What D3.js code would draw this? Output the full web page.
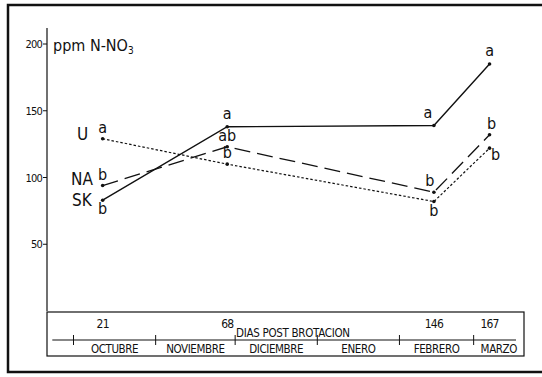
<!DOCTYPE html>
<html>
<head>
<meta charset="utf-8">
<script src="https://cdn.jsdelivr.net/npm/d3@7"></script>
<style>
  body { margin: 0; background: #fff; }
  text { font-family: "DejaVu Sans Condensed", "Liberation Sans", sans-serif; fill: #111; }
</style>
</head>
<body>
<div id="chart"></div>
<script>
// days after budbreak where samples were taken
const days = [21, 68, 146, 167];
const skValues = [83, 138, 139, 185];
const naValues = [94, 123, 89, 132];
const uValues = [129, 110, 82, 122];
const skLetters = ['b', 'a', 'a', 'a'];
const naLetters = ['b', 'ab', 'b', 'b'];
const uLetters = ['a', 'b', 'b', 'b'];
const yTicks = [50, 100, 150, 200];
const months = ['OCTUBRE', 'NOVIEMBRE', 'DICIEMBRE', 'ENERO', 'FEBRERO', 'MARZO'];
const monthStarts = [10, 41, 71, 102, 133, 161];

const width = 542;
const height = 377;

const x = d3.scaleLinear().domain([0, 180]).range([47, 524]);
const y = d3.scaleLinear().domain([0, 200]).range([311, 44]);

const svg = d3.select('#chart')
  .append('svg')
  .attr('width', width)
  .attr('height', height);

// outer frame (no right edge in the scan)
svg.append('path')
  .attr('d', 'M542,5 H8 V372 H542')
  .attr('fill', 'none')
  .attr('stroke', '#111')
  .attr('stroke-width', 2.5);

// y axis
const yAxis = svg.append('g').attr('transform', `translate(${x(0)},0)`);
yAxis.append('line')
  .attr('y1', 28).attr('y2', y(0))
  .attr('stroke', '#111').attr('stroke-width', 1.2);
yAxis.selectAll('.tick')
  .data(yTicks)
  .enter()
  .append('line')
  .attr('x1', -4).attr('x2', 0)
  .attr('y1', d => y(d)).attr('y2', d => y(d))
  .attr('stroke', '#111');
yAxis.selectAll('.tlabel')
  .data(yTicks)
  .enter()
  .append('text')
  .attr('x', -5)
  .attr('y', d => y(d) + 4)
  .attr('text-anchor', 'end')
  .attr('font-size', 11)
  .attr('letter-spacing', -0.8)
  .text(d => d);

const title = svg.append('text')
  .attr('x', 53).attr('y', 51)
  .attr('font-size', 16);
title.append('tspan').text('ppm N-NO');
title.append('tspan').attr('font-size', 10).attr('dy', 3).text('3');

// x axis box
const box = svg.append('g');
box.append('rect')
  .attr('x', x(0)).attr('y', 312)
  .attr('width', x(180) - x(0)).attr('height', 44)
  .attr('fill', 'none').attr('stroke', '#111').attr('stroke-width', 1.2);
box.append('line')
  .attr('x1', x(2)).attr('x2', x(177))
  .attr('y1', 340).attr('y2', 340)
  .attr('stroke', '#111').attr('stroke-width', 1.2);
box.selectAll('.mtick')
  .data(monthStarts)
  .enter()
  .append('line')
  .attr('x1', d => x(d)).attr('x2', d => x(d))
  .attr('y1', 335).attr('y2', 345)
  .attr('stroke', '#111');
box.selectAll('.mlabel')
  .data(months)
  .enter()
  .append('text')
  .attr('x', (d, i) => x(((monthStarts[i]) + (monthStarts[i + 1] || 180)) / 2))
  .attr('y', 353)
  .attr('text-anchor', 'middle')
  .attr('font-size', 11.5)
  .attr('letter-spacing', -0.4)
  .text(d => d);
box.selectAll('.dlabel')
  .data(days)
  .enter()
  .append('text')
  .attr('x', d => x(d))
  .attr('y', 328)
  .attr('text-anchor', 'middle')
  .attr('font-size', 12)
  .attr('letter-spacing', -0.8)
  .text(d => d);
box.append('text')
  .attr('x', 236).attr('y', 337)
  .attr('font-size', 11.5)
  .attr('letter-spacing', -0.3)
  .text('DIAS POST BROTACION');

// series
const series = [
  { name: 'SK', values: skValues, letters: skLetters, dash: null, width: 1.4,
    place: [[0, 14], [0, -8], [-6, -7], [0, -8]], nameAt: [72, 206] },
  { name: 'NA', values: naValues, letters: naLetters, dash: '16,7', width: 1.3,
    place: [[0, -6], [0, -6], [-4, -6], [2, -6]], nameAt: [71, 185] },
  { name: 'U', values: uValues, letters: uLetters, dash: '2.5,2', width: 1.2,
    place: [[0, -6], [0, -6], [0, 14], [6, 12]], nameAt: [77, 140] }
];

const line = d3.line()
  .x((d, i) => x(days[i]))
  .y(d => y(d));

series.forEach(s => {
  const g = svg.append('g').attr('id', `series-${s.name}`);
  g.append('path')
    .datum(s.values)
    .attr('d', line)
    .attr('fill', 'none')
    .attr('stroke', '#111')
    .attr('stroke-width', s.width)
    .attr('stroke-dasharray', s.dash);
  g.selectAll('circle')
    .data(s.values)
    .enter()
    .append('circle')
    .attr('cx', (d, i) => x(days[i]))
    .attr('cy', d => y(d))
    .attr('r', 1.8)
    .attr('fill', '#111');
  g.selectAll('.sig')
    .data(s.letters)
    .enter()
    .append('text')
    .attr('x', (d, i) => x(days[i]) + s.place[i][0])
    .attr('y', (d, i) => y(s.values[i]) + s.place[i][1])
    .attr('text-anchor', 'middle')
    .attr('font-size', 16)
    .text(d => d);
  g.append('text')
    .attr('x', s.nameAt[0]).attr('y', s.nameAt[1])
    .attr('font-size', 17)
    .text(s.name);
});
</script>
</body>
</html>
